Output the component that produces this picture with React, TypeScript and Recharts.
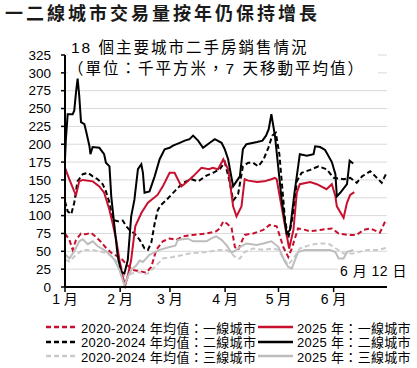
import { LineChart, Line, XAxis, YAxis, CartesianGrid } from 'recharts';

// x = days since 1 Jan, y = thousand m², 7-day moving average
const MONTH_TICKS = [0, 31, 59, 90, 120, 151];
const MONTH_LABELS = ['1 月', '2 月', '3 月', '4 月', '5 月', '6 月'];
const Y_TICKS = [0, 25, 50, 75, 100, 125, 150, 175, 200, 225, 250, 275, 300, 325];

const TIER1_AVG: [number, number][] = [
  [0, 75], [2.5, 66], [4.3, 52], [6.2, 66], [9, 75], [11.8, 74], [14.7, 76], [17.5, 70], [20.3, 63],
  [23, 55], [26, 48], [28.8, 44], [31.6, 40], [34.4, 32], [38, 24], [42, 22], [45.7, 20], [48.5, 28],
  [51.3, 52], [55, 64], [58.8, 68], [62.6, 66], [66.3, 71], [72, 73], [79.5, 75], [85, 78], [87, 82],
  [89, 92], [91, 89], [93.6, 83], [95.5, 56], [97.3, 52], [101, 73], [105.8, 75], [111.5, 80], [115, 87],
  [119, 85], [122.7, 56], [125.5, 42], [127.5, 54], [131, 82], [135, 80], [137.8, 78], [143.4, 80],
  [150, 82], [153.8, 75], [158.5, 73], [164, 73], [167.8, 80], [171.6, 82], [177, 76], [180, 92], [181, 89],
];

const TIER2_AVG: [number, number][] = [
  [0, 120], [1.5, 106], [3.5, 102], [5.2, 118], [7, 148], [10, 158], [12.8, 160], [15.6, 155], [18.4, 151],
  [21.2, 144], [23, 134], [25, 118], [26.8, 94], [29.7, 92], [32.5, 93], [34.4, 85], [36.3, 80], [39, 75],
  [42, 66], [44.7, 54], [46.6, 52], [48.5, 62], [50.4, 89], [52.2, 108], [54, 115], [57, 122], [61.6, 134],
  [66.3, 146], [71, 151], [74.8, 148], [79.5, 156], [83.2, 160], [87, 165], [89.8, 175], [92.7, 146],
  [94.5, 121], [97.3, 130], [100, 169], [103, 174], [105.8, 174], [108.6, 169], [111.5, 178], [114.3, 195],
  [116.5, 212], [118.5, 216], [120.5, 186], [123.7, 94], [125.5, 68], [128.4, 104], [130.3, 148], [133, 160],
  [137.8, 164], [142.5, 169], [147, 165], [151, 153], [156.6, 151], [160.3, 153], [164, 146], [167, 155],
  [171.6, 162], [174.5, 155], [178, 146], [181, 161],
];

const TIER3_AVG: [number, number][] = [
  [0, 38], [2.5, 36], [6.2, 45], [10, 52], [15.6, 52], [21.2, 49], [25, 45], [29, 36], [31.6, 29],
  [34.4, 9], [37.2, 19], [42, 21], [43.8, 18], [46.6, 19], [50.4, 28], [55, 40], [60.7, 42], [70, 47],
  [79.5, 49], [87, 52], [90.8, 52], [93.6, 47], [96.4, 40], [98.3, 40], [101, 49], [105.8, 54], [111.5, 52],
  [117, 54], [120, 52], [122.7, 40], [125.5, 31], [128.4, 40], [132, 54], [137.8, 59], [143.4, 61],
  [148, 61], [151, 56], [156.6, 47], [162, 47], [169.8, 52], [176.3, 52], [181, 55],
];

const TIER1_2025: [number, number][] = [
  [0, 167], [2.4, 151], [5.2, 134], [6.2, 129], [8, 148], [10, 150], [15.6, 148], [19.3, 141], [22, 132],
  [25, 108], [26.8, 89], [28.8, 66], [30.6, 38], [32.5, 14], [33.8, 2], [35.5, 18], [37.2, 38], [39.5, 85],
  [43, 104], [46.6, 118], [52, 129], [55, 141], [58.8, 160], [61.6, 160], [65.4, 141], [68, 146], [72, 155],
  [76.7, 167], [81, 165], [83, 167], [86, 165], [89, 179], [91.7, 165], [94.5, 113], [96.4, 99], [99.2, 113],
  [101, 151], [103, 149], [108, 147], [112, 148], [116, 151], [118, 153], [119, 151], [122.7, 99], [126, 54],
  [128.4, 80], [130.3, 132], [132, 144], [137.8, 147], [141.6, 144], [147, 137], [150, 144], [152, 127],
  [152.8, 113], [156.6, 97], [158.5, 118], [160.3, 129], [162.6, 133],
];

const TIER2_2025: [number, number][] = [
  [0, 179], [0.5, 207], [1.5, 242], [4.3, 242], [5.2, 247], [6.2, 273], [7.1, 292], [8, 268], [9, 231],
  [10.9, 228], [11.8, 219], [13.7, 198], [14.3, 186], [15.5, 196], [19.3, 195], [22, 186], [23, 174],
  [25, 169], [26, 127], [27.8, 85], [29.7, 42], [31.6, 21], [33.4, 19], [35.3, 38], [37.2, 99], [39, 122],
  [41, 165], [42.9, 172], [43.8, 160], [44.7, 132], [47.5, 134], [50.4, 155], [53.2, 179], [56, 193],
  [58.8, 195], [60.7, 198], [64.5, 202], [67.3, 205], [70, 207], [72, 212], [74.8, 205], [77.6, 195],
  [81.4, 202], [84.2, 207], [88, 202], [89.8, 193], [91.7, 179], [94.5, 141], [98.3, 155], [100, 193],
  [102, 200], [108, 203], [111, 205], [113, 212], [114.5, 221], [116, 242], [118, 212], [121.8, 122],
  [124.6, 75], [126.5, 80], [129, 132], [132, 186], [136, 184], [139.7, 186], [140.6, 197], [143.4, 196],
  [146.2, 192], [150, 175], [152, 158], [152.8, 127], [154.7, 132], [158.5, 144], [160, 177], [162, 173],
];

const TIER3_2025: [number, number][] = [
  [0, 46], [2.5, 40], [5.2, 50], [8, 64], [10, 67], [12.8, 60], [15.6, 64], [18.4, 57], [22, 52], [25, 46],
  [27.8, 38], [30.6, 24], [33.4, 2], [35.3, 14], [37.2, 24], [40, 30], [42, 37], [43.8, 35], [47.5, 45],
  [53.2, 52], [58.8, 56], [62, 58], [63.5, 66], [69, 68], [72, 64], [79.5, 64], [82.3, 68], [85, 71],
  [88, 66], [91, 58], [93.6, 48], [96.4, 52], [98.3, 56], [102, 61], [107.7, 59], [111.5, 61], [116, 64],
  [120, 56], [123.7, 35], [125.5, 28], [127.5, 26], [131, 49], [135, 52], [141.6, 52], [149, 52], [152, 49],
  [153.8, 40], [156.6, 40], [158.5, 49], [162, 52],
];

const FONT = '"Liberation Sans", Arial, "Noto Sans CJK TC", sans-serif';

const SERIES = [
  { name: '2020-2024 年均值：一線城市', points: TIER1_AVG, color: '#c8102e', dash: '5 3' },
  { name: '2020-2024 年均值：二線城市', points: TIER2_AVG, color: '#000000', dash: '5 3' },
  { name: '2020-2024 年均值：三線城市', points: TIER3_AVG, color: '#cacaca', dash: '5 3' },
  { name: '2025 年：一線城市', points: TIER1_2025, color: '#c8102e', dash: undefined },
  { name: '2025 年：二線城市', points: TIER2_2025, color: '#000000', dash: undefined },
  { name: '2025 年：三線城市', points: TIER3_2025, color: '#bdbdbd', dash: undefined },
];

const toRows = (pts: [number, number][]) => pts.map(([d, v]) => ({ d, v }));

function LegendItem({ s, left, top, swatch }: { s: (typeof SERIES)[number]; left: number; top: number; swatch: number }) {
  return (
    <div style={{ position: 'absolute', left, top, display: 'flex', alignItems: 'center', height: 14 }}>
      <svg width={swatch} height={4} style={{ display: 'block' }}>
        <line x1={0} y1={2} x2={swatch} y2={2} stroke={s.color} strokeWidth={2.5} strokeDasharray={s.dash} />
      </svg>
      <span style={{ marginLeft: 4, fontSize: 13, letterSpacing: 0.3, whiteSpace: 'nowrap', color: '#000' }}>{s.name}</span>
    </div>
  );
}

export default function App() {
  return (
    <div style={{ position: 'absolute', left: 0, top: 0, width: 417, height: 368, background: '#fff', fontFamily: FONT }}>
      <div
        style={{
          position: 'absolute', left: 5, top: 4, fontSize: 18, fontWeight: 700, letterSpacing: 3,
          lineHeight: '20px', color: '#1a1a1a', whiteSpace: 'nowrap',
        }}
      >
        一二線城市交易量按年仍保持增長
      </div>

      <LineChart width={417} height={320} margin={{ top: 55, right: 30, left: 0, bottom: 8 }}>
        <CartesianGrid horizontal vertical={false} stroke="#d9d9d9" />
        <XAxis
          type="number"
          dataKey="d"
          domain={[0, 181]}
          ticks={MONTH_TICKS}
          tickFormatter={(v: number) => MONTH_LABELS[MONTH_TICKS.indexOf(v)]}
          height={25}
          tickSize={5}
          axisLine={{ stroke: '#000', strokeWidth: 2 }}
          tickLine={{ stroke: '#000', strokeWidth: 1.5 }}
          tick={{ fill: '#000', fontSize: 14, fontFamily: FONT }}
          allowDecimals={false}
        />
        <YAxis
          domain={[0, 325]}
          ticks={Y_TICKS}
          width={65}
          tickSize={4}
          tickMargin={10}
          axisLine={{ stroke: '#000', strokeWidth: 2 }}
          tickLine={{ stroke: '#000', strokeWidth: 1.5 }}
          tick={{ fill: '#000', fontSize: 13.5, fontFamily: FONT }}
          interval={0}
        />
        {SERIES.map((s) => (
          <Line
            key={s.name}
            data={toRows(s.points)}
            dataKey="v"
            type="linear"
            stroke={s.color}
            strokeWidth={2}
            strokeDasharray={s.dash}
            dot={false}
            activeDot={false}
            isAnimationActive={false}
          />
        ))}
      </LineChart>

      <div
        style={{
          position: 'absolute', left: 68, top: 37, width: 310, height: 40, background: '#fff',
          fontSize: 15.5, letterSpacing: 2, lineHeight: '21px', color: '#000', whiteSpace: 'nowrap',
        }}
      >
        <div style={{ paddingLeft: 3 }}>18 個主要城市二手房銷售情況</div>
        <div>（單位：千平方米，7 天移動平均值）</div>
      </div>

      <div
        style={{
          position: 'absolute', left: 338, top: 263, background: '#fff', fontSize: 14, letterSpacing: 0.5,
          lineHeight: '16px', padding: '0 2px', color: '#000', whiteSpace: 'nowrap',
        }}
      >
        6 月 12 日
      </div>

      <LegendItem s={SERIES[0]} left={46} top={320} swatch={31} />
      <LegendItem s={SERIES[1]} left={46} top={334.5} swatch={31} />
      <LegendItem s={SERIES[2]} left={46} top={349} swatch={31} />
      <LegendItem s={SERIES[3]} left={258} top={320} swatch={35} />
      <LegendItem s={SERIES[4]} left={258} top={334.5} swatch={35} />
      <LegendItem s={SERIES[5]} left={258} top={349} swatch={35} />
    </div>
  );
}
